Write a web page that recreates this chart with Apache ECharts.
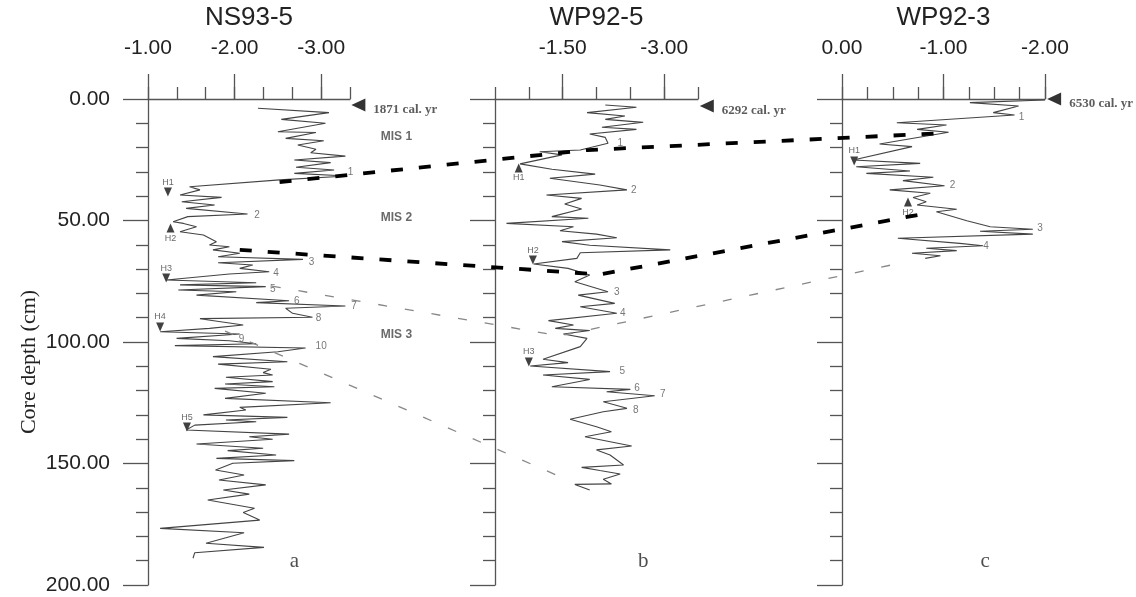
<!DOCTYPE html>
<html>
<head>
<meta charset="utf-8">
<title>Core depth isotope records</title>
<script src="https://cdn.jsdelivr.net/npm/echarts@6/dist/echarts.min.js"></script>
<style>
  html, body { margin: 0; padding: 0; background: #fff; }
  #chart { width: 1136px; height: 597px; }
</style>
</head>
<body>
<div id="chart"></div>
<script>
// cores and axis ranges
const cores = ['NS93-5', 'WP92-5', 'WP92-3']
const xMin = [-10 / 3, -3.5, -2]
const xMax = [-1, -0.5, 0]
const majorMin = [-3, -3, -2]
const majorMax = [-1, -1.5, 0]
const majorStep = [1, 1.5, 1]
const minorStep = [1 / 3, 0.5, 0.25]

// NS93-5 record (depth cm, value)
const nsDepth = [3.8, 5.6, 8.4, 10.0, 13.5, 13.8, 16.2, 17.2, 18.9, 20.7, 22.1, 23.5, 25.1, 26.2, 28.1, 29.2, 30.6, 31.7, 33.3, 36.1,
  37.4, 39.5, 40.5, 42.3, 43.6, 45.0, 47.3, 48.4, 50.5, 51.2, 52.6, 54.6, 56.0, 58.7, 60.1, 60.8, 62.1, 63.5, 64.9, 66.0,
  67.4, 68.3, 69.7, 71.1, 72.0, 74.5, 75.6, 76.5, 77.2, 78.6, 79.3, 80.7, 83.0, 83.8, 85.2, 86.1, 88.2, 89.8, 90.4, 93.0,
  94.4, 95.8, 96.7, 98.5, 99.5, 100.7, 101.5, 102.5, 104.0, 106.0, 108.1, 109.1, 111.2, 112.6, 113.6, 114.5, 116.3, 117.3, 118.4, 119.1,
  121.1, 123.2, 125.0, 126.9, 128.0, 130.0, 131.0, 132.1, 132.8, 134.2, 136.2, 137.9, 139.0, 140.0, 142.0, 143.7, 144.7, 146.5, 147.9, 148.8,
  149.9, 152.7, 154.7, 156.8, 158.8, 160.9, 162.6, 165.0, 168.4, 170.2, 173.3, 176.7, 178.5, 182.8, 184.5, 186.7, 189.0]
const nsValue = [-2.27, -3.09, -2.54, -3.05, -2.50, -2.94, -2.59, -3.03, -2.73, -2.94, -2.88, -3.28, -2.69, -3.11, -2.71, -3.15, -2.69, -3.30, -2.52, -1.48,
  -1.60, -1.37, -1.85, -1.39, -1.77, -1.44, -2.15, -1.46, -1.29, -1.41, -1.56, -1.37, -1.64, -1.79, -1.71, -1.94, -1.75, -2.06, -1.81, -2.79,
  -1.81, -2.21, -2.06, -2.40, -1.94, -1.21, -2.25, -1.37, -2.36, -1.35, -2.02, -1.56, -2.63, -2.25, -3.28, -2.59, -2.67, -2.90, -1.60, -2.10,
  -1.71, -1.14, -2.06, -1.33, -1.94, -2.25, -1.31, -2.82, -2.50, -1.75, -2.61, -1.81, -2.42, -2.33, -2.44, -1.90, -2.44, -1.89, -2.46, -1.77,
  -2.36, -1.89, -3.11, -2.06, -2.13, -1.64, -2.61, -1.90, -2.25, -1.54, -1.44, -2.63, -2.17, -2.44, -1.56, -2.33, -1.92, -2.48, -1.79, -2.69,
  -1.98, -1.78, -2.11, -1.82, -2.36, -1.87, -2.17, -1.69, -2.23, -2.10, -2.29, -1.14, -2.11, -1.67, -2.34, -1.54, -1.52]

// WP92-5 record
const wp5Depth = [2.5, 3.4, 5.6, 7.0, 8.4, 9.6, 11.6, 12.5, 14.4, 15.8, 18.2, 21.0, 21.7, 23.0, 26.7, 28.9, 30.9, 32.6, 35.4, 37.4,
  39.5, 40.9, 43.2, 45.3, 48.4, 49.1, 51.2, 52.6, 54.2, 55.6, 57.1, 58.7, 60.2, 62.1, 63.3, 65.6, 67.9, 69.7, 72.4, 75.2,
  79.3, 80.7, 84.1, 85.5, 88.2, 91.2, 93.0, 94.4, 95.3, 96.7, 98.5, 101.9, 107.1, 108.5, 109.9, 112.2, 113.6, 115.4, 118.4, 119.5,
  120.5, 122.1, 124.6, 127.3, 128.7, 131.8, 134.9, 136.9, 139.0, 142.8, 144.4, 146.5, 150.6, 151.6, 152.9, 154.3, 156.5, 158.4, 158.6, 160.9]
const wp5Value = [-2.13, -2.59, -1.86, -2.42, -2.13, -2.69, -2.08, -2.59, -1.90, -2.13, -2.17, -1.76, -1.16, -1.49, -0.87, -1.34, -1.98, -1.31, -2.05, -2.45,
  -1.26, -1.78, -1.53, -1.78, -1.34, -1.88, -0.67, -1.66, -1.46, -2.00, -2.30, -1.49, -1.90, -3.09, -1.76, -1.71, -1.07, -1.58, -1.90, -1.68,
  -2.17, -1.73, -2.27, -1.76, -2.30, -1.29, -1.66, -1.39, -1.90, -1.51, -1.86, -1.76, -1.21, -1.58, -1.02, -2.20, -1.21, -1.90, -1.34, -2.50,
  -2.15, -2.86, -2.10, -2.45, -2.10, -1.61, -2.00, -2.22, -1.83, -2.52, -2.00, -2.20, -2.40, -1.78, -2.05, -2.35, -2.10, -2.22, -1.68, -1.90]

// WP92-3 record
const wp3Depth = [0.4, 1.5, 2.9, 5.6, 6.6, 9.8, 10.7, 12.5, 13.7, 18.5, 19.6, 25.1, 26.5, 27.9, 29.6, 30.6, 32.2, 33.6, 35.7, 37.4,
  38.8, 40.5, 42.3, 43.6, 45.4, 46.4, 50.1, 52.6, 53.6, 54.4, 55.6, 57.3, 59.4, 60.4, 61.4, 62.4, 63.5, 64.5, 65.6]
const wp3Value = [-2.00, -1.26, -1.74, -1.49, -1.70, -0.54, -1.03, -0.74, -1.05, -0.37, -0.69, -0.11, -0.77, -0.14, -0.67, -0.24, -0.90, -0.60, -1.01, -0.47,
  -0.87, -0.70, -0.83, -0.74, -1.13, -0.93, -1.23, -1.46, -1.88, -1.36, -1.88, -0.55, -1.16, -1.39, -0.83, -1.13, -0.69, -0.97, -0.82]

// Heinrich events (name, depth, value, arrow direction)
const hName = [['H1', 'H2', 'H3', 'H4', 'H5'], ['H1', 'H2', 'H3'], ['H1', 'H2']]
const hDepth = [[38.3, 53.1, 73.7, 93.8, 135.0], [28.4, 66.3, 108.2], [25.5, 42.4]]
const hValue = [[-1.23, -1.26, -1.21, -1.14, -1.45], [-0.85, -1.06, -1.00], [-0.12, -0.65]]
const hDir = [['down', 'up', 'down', 'down', 'down'], ['up', 'down', 'down'], ['down', 'up']]

// numbered isotope events
const evName = [['1', '2', '3', '4', '5', '6', '7', '8', '9', '10'], ['1', '2', '3', '4', '5', '6', '7', '8'], ['1', '2', '3', '4']]
const evDepth = [[30.0, 47.7, 67.1, 71.6, 78.2, 83.1, 85.2, 90.1, 98.8, 101.6], [18.1, 37.4, 79.4, 88.1, 111.9, 118.9, 121.4, 128.0], [7.4, 35.4, 53.1, 60.5]]
const evValue = [[-3.34, -2.26, -2.89, -2.48, -2.44, -2.72, -3.38, -2.97, -2.08, -3.00], [-2.35, -2.55, -2.30, -2.39, -2.38, -2.60, -2.98, -2.58], [-1.77, -1.09, -1.95, -1.42]]

// core-top ages
const topAge = ['1871 cal. yr', '6292 cal. yr', '6530 cal. yr']
const topDepth = [2.5, 2.9, 0]
const topValue = [-3.43, -3.63, -2.09]

// marine isotope stages (drawn beside NS93-5)
const misName = ['MIS 1', 'MIS 2', 'MIS 3']
const misDepth = [15.6, 49.0, 97.1]
const misValue = [-3.87, -3.87, -3.87]

// panel letters
const panelName = ['a', 'b', 'c']
const panelDepth = [190.5, 190.5, 190.5]
const panelValue = [-2.69, -2.69, -1.41]

// correlation lines: [core index, value, depth]
const boundary1 = [[0, -2.52, 34.2], [1, -1.87, 21.0], [2, -1.02, 14.0]]
const boundary2 = [[0, -2.06, 62.1], [1, -2.05, 72.2], [2, -0.80, 47.3]]
const tie3 = [[0, -2.43, 77.0], [1, -1.46, 97.5], [2, -0.62, 67.1]]
const tie4 = [[0, -1.89, 95.5], [1, -1.61, 157.2]]

const sans = 'Liberation Sans, Arial, sans-serif'
const serif = 'Liberation Serif, Times New Roman, serif'
const axisColor = '#555'
const lefts = [148, 495, 842]
const widths = [202, 203, 203]
const gridTop = 99
const gridHeight = 486

const chart = echarts.init(document.getElementById('chart'))

let grid = []
let xAxis = []
let yAxis = []

// grids 0-2: data panels, 3-5: long ticks + labels, 6-8: short ticks
for (let i = 0; i < 3; i++) {
  grid.push({ left: lefts[i], top: gridTop, width: widths[i], height: gridHeight })
}
for (let i = 0; i < 3; i++) {
  // inverse axis: xMax sits on the left edge
  let pxPerUnit = widths[i] / (xMax[i] - xMin[i])
  grid.push({
    left: lefts[i] + (xMax[i] - majorMax[i]) * pxPerUnit,
    top: gridTop,
    width: (majorMax[i] - majorMin[i]) * pxPerUnit,
    height: gridHeight
  })
}
for (let i = 0; i < 3; i++) {
  grid.push({ left: lefts[i], top: gridTop, width: widths[i], height: gridHeight })
}

const tickLine = { color: axisColor, width: 1.3 }

for (let i = 0; i < 3; i++) {
  xAxis.push({
    type: 'value',
    gridIndex: i,
    position: 'top',
    inverse: true,
    min: xMin[i],
    max: xMax[i],
    name: cores[i],
    nameLocation: 'middle',
    nameGap: 68,
    nameTextStyle: { fontSize: 26, fontFamily: sans, color: '#222' },
    axisLine: { show: true, onZero: false, lineStyle: tickLine },
    axisTick: { show: false },
    axisLabel: { show: false },
    splitLine: { show: false }
  })
  yAxis.push({
    type: 'value',
    gridIndex: i,
    inverse: true,
    min: 0,
    max: 200,
    interval: 50,
    name: i === 0 ? 'Core depth (cm)' : '',
    nameLocation: 'middle',
    nameGap: 108,
    nameTextStyle: { fontSize: 22, fontFamily: serif, color: '#222', padding: [0, 40, 0, 0] },
    axisLine: { show: true, onZero: false, lineStyle: tickLine },
    axisTick: { show: true, length: 25, lineStyle: tickLine },
    minorTick: { show: true, splitNumber: 5, length: 12, lineStyle: tickLine },
    axisLabel: {
      show: i === 0,
      formatter: v => v.toFixed(2),
      fontSize: 21,
      margin: 38,
      color: '#222',
      fontFamily: sans
    },
    splitLine: { show: false },
    minorSplitLine: { show: false }
  })
}
for (let i = 0; i < 3; i++) {
  xAxis.push({
    type: 'value',
    gridIndex: i + 3,
    position: 'top',
    inverse: true,
    min: majorMin[i],
    max: majorMax[i],
    interval: majorStep[i],
    axisLine: { show: false },
    axisTick: { show: true, length: 25, lineStyle: tickLine },
    axisLabel: {
      formatter: v => v.toFixed(2),
      fontSize: 21,
      margin: 40,
      color: '#222',
      fontFamily: sans
    },
    splitLine: { show: false }
  })
  yAxis.push({ type: 'value', gridIndex: i + 3, show: false, inverse: true, min: 0, max: 200 })
}
for (let i = 0; i < 3; i++) {
  xAxis.push({
    type: 'value',
    gridIndex: i + 6,
    position: 'top',
    inverse: true,
    min: xMin[i],
    max: xMax[i],
    interval: minorStep[i],
    axisLine: { show: false },
    axisTick: { show: true, length: 12, lineStyle: tickLine },
    axisLabel: { show: false },
    splitLine: { show: false }
  })
  yAxis.push({ type: 'value', gridIndex: i + 6, show: false, inverse: true, min: 0, max: 200 })
}

function zip (values, depths) {
  let out = []
  for (let j = 0; j < Math.min(values.length, depths.length); j++) {
    out.push([values[j], depths[j]])
  }
  return out
}

function textSeries (i, names, values, depths, style) {
  return {
    type: 'scatter',
    xAxisIndex: i,
    yAxisIndex: i,
    clip: false,
    silent: true,
    symbolSize: 1,
    itemStyle: { color: 'rgba(0,0,0,0)' },
    label: Object.assign({ show: true, position: 'inside', formatter: p => p.name }, style),
    data: names.map((n, j) => ({ name: n, value: [values[j], depths[j]] }))
  }
}

const records = [zip(nsValue, nsDepth), zip(wp5Value, wp5Depth), zip(wp3Value, wp3Depth)]

let series = []
for (let i = 0; i < 3; i++) {
  series.push({
    type: 'line',
    xAxisIndex: i,
    yAxisIndex: i,
    symbol: 'none',
    silent: true,
    lineStyle: { color: '#444', width: 1.1 },
    data: records[i]
  })
  series.push({
    type: 'scatter',
    xAxisIndex: i,
    yAxisIndex: i,
    clip: false,
    silent: true,
    symbol: 'triangle',
    symbolSize: [8, 9],
    itemStyle: { color: '#111' },
    data: hName[i].map((n, j) => ({
      name: n,
      value: [hValue[i][j], hDepth[i][j]],
      symbolRotate: hDir[i][j] === 'down' ? 180 : 0,
      label: { position: hDir[i][j] === 'down' ? 'top' : 'bottom' }
    })),
    label: { show: true, formatter: p => p.name, fontSize: 9, color: '#444', fontFamily: sans, distance: 1 }
  })
  series.push(textSeries(i, evName[i], evValue[i], evDepth[i], { fontSize: 10, color: '#555', fontFamily: sans }))
  series.push({
    type: 'scatter',
    xAxisIndex: i,
    yAxisIndex: i,
    clip: false,
    silent: true,
    symbol: 'triangle',
    symbolSize: [13, 14],
    symbolRotate: 90,
    itemStyle: { color: '#000' },
    data: [{ name: topAge[i], value: [topValue[i], topDepth[i]] }],
    label: {
      show: true,
      position: 'right',
      distance: 8,
      offset: [0, 5],
      formatter: p => p.name,
      fontSize: 13,
      fontWeight: 'bold',
      fontFamily: serif,
      color: '#333'
    }
  })
}
series.push(textSeries(0, misName, misValue, misDepth, { fontSize: 12, fontWeight: 'bold', color: '#444', fontFamily: sans }))
for (let i = 0; i < 3; i++) {
  series.push(textSeries(i, [panelName[i]], [panelValue[i]], [panelDepth[i]], { fontSize: 21, color: '#222', fontFamily: serif }))
}

chart.setOption({
  animation: false,
  backgroundColor: '#fff',
  grid: grid,
  xAxis: xAxis,
  yAxis: yAxis,
  series: series
})

function tiePoints (tie) {
  return tie.map(p => chart.convertToPixel({ gridIndex: p[0] }, [p[1], p[2]]))
}

chart.setOption({
  graphic: [
    { type: 'polyline', z: 100, shape: { points: tiePoints(boundary1) }, style: { stroke: '#000', lineWidth: 3.8, lineDash: [12, 16], fill: null } },
    { type: 'polyline', z: 100, shape: { points: tiePoints(boundary2) }, style: { stroke: '#000', lineWidth: 3.8, lineDash: [12, 16], fill: null } },
    { type: 'polyline', z: 100, shape: { points: tiePoints(tie3) }, style: { stroke: '#888', lineWidth: 1.3, lineDash: [9, 18], fill: null } },
    { type: 'polyline', z: 100, shape: { points: tiePoints(tie4) }, style: { stroke: '#888', lineWidth: 1.3, lineDash: [9, 18], fill: null } }
  ]
})
</script>
</body>
</html>
